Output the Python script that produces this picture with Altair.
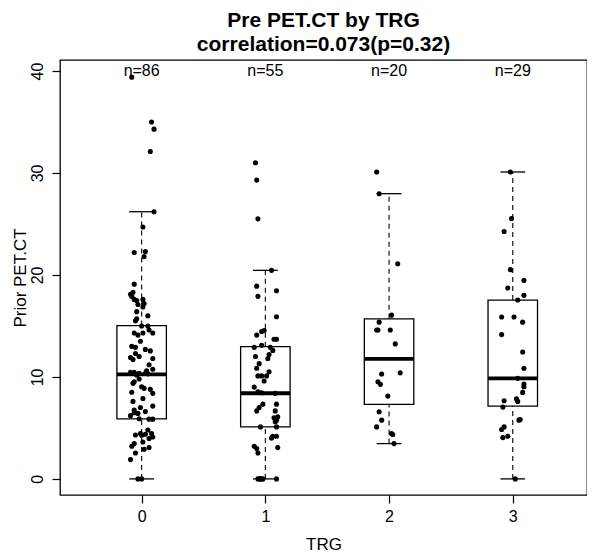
import altair as alt
import pandas as pd

FONT = "Liberation Sans"

# ---- data ----
groups = [0, 1, 2, 3]
n_labels = ["n=86", "n=55", "n=20", "n=29"]
q1 = [5.89, 5.1, 7.3, 7.14]
median = [10.25, 8.4, 11.76, 9.86]
q3 = [15.04, 12.97, 15.7, 17.54]
whisk_lo = [0.0, 0.0, 3.46, 0.0]
whisk_hi = [26.2, 20.45, 27.97, 30.1]

g0_vals = [39.4, 35.0, 34.3, 32.1, 26.2, 24.7, 22.2, 22.3, 21.8, 19.1,
           18.1, 17.9, 17.6, 17.5, 17.6, 17.2, 17.1, 16.85, 16.4, 15.7,
           15.5, 15.0, 15.0, 14.3, 14.1, 14.3, 14.3, 13.5, 12.9, 12.7,
           12.55, 11.9, 11.7, 12.0, 11.8, 10.45, 10.45, 10.35, 10.35, 10.6,
           10.75, 9.37, 9.53, 9.04, 8.88, 8.78, 8.39, 7.89, 7.0, 7.14,
           6.74, 6.48, 6.42, 5.86, 5.86, 4.45, 4.28, 4.38, 4.45, 4.11,
           3.96, 3.46, 3.2, 3.62, 3.07, 2.54, 1.89, 0.0, 0.0, 16.0,
           13.0, 11.2, 10.2, 10.3, 9.8, 8.5, 7.6, 6.6, 6.2, 5.9,
           4.8, 4.3, 2.9, 18.3, 14.6, 12.3]
g0_jit = [-0.08, 0.08, 0.10, 0.07, 0.10, 0.01, -0.06, 0.03, 0.02, -0.06,
          -0.09, -0.08, -0.06, -0.04, 0.01, 0.02, -0.03, 0.01, -0.04, -0.04,
          -0.05, 0.0, 0.05, -0.06, -0.03, 0.01, 0.09, -0.01, -0.05, 0.03,
          0.07, -0.09, -0.07, -0.02, 0.09, -0.09, -0.06, -0.02, 0.03, 0.04,
          0.09, -0.07, -0.06, 0.0, 0.02, 0.07, 0.09, 0.01, -0.01, 0.09,
          -0.06, -0.06, -0.03, 0.06, 0.09, -0.01, 0.0, 0.03, 0.08, 0.09,
          0.06, -0.06, -0.08, 0.01, 0.06, -0.05, -0.09, -0.03, 0.0, 0.05,
          -0.08, 0.06, -0.04, 0.05, -0.02, -0.08, -0.07, 0.03, -0.09, -0.02,
          0.05, -0.05, 0.02, -0.07, 0.06, -0.05]

g1_vals = [31.0, 29.3, 25.5, 20.45, 18.9, 18.45, 17.9, 15.9, 14.1, 14.45,
           14.55, 13.7, 13.7, 12.9, 13.1, 12.9, 12.6, 12.2, 11.3, 10.85,
           10.1, 10.1, 10.1, 10.5, 9.0, 8.55, 8.45, 8.4, 7.33, 7.0,
           6.67, 7.33, 6.67, 6.08, 5.76, 5.6, 5.1, 5.1, 4.18, 4.18,
           3.2, 2.97, 2.54, 3.07, 0.0, 0.0, 0.0, 0.0, 0.0, 0.0,
           11.8, 9.6, 6.0, 12.0, 4.0]
g1_jit = [-0.08, -0.07, -0.06, 0.05, -0.07, 0.09, -0.06, 0.09, -0.07, -0.03,
          -0.01, 0.07, 0.09, -0.09, -0.03, 0.04, 0.06, 0.03, -0.05, -0.07,
          -0.06, -0.03, 0.01, 0.03, -0.09, -0.06, -0.03, 0.08, -0.02, -0.05,
          -0.07, 0.09, 0.08, 0.10, 0.09, 0.08, -0.04, 0.09, 0.06, 0.09,
          -0.09, -0.07, -0.06, 0.10, -0.06, -0.03, -0.02, 0.09, -0.05, -0.04,
          0.02, -0.01, 0.07, -0.08, 0.05]

g2_vals = [30.1, 27.97, 21.1, 16.06, 15.37, 14.6, 14.6, 14.6, 13.24, 10.29,
           10.4, 9.53, 9.27, 8.12, 6.58, 5.76, 5.1, 4.45, 4.35, 3.46]
g2_jit = [-0.10, -0.08, 0.07, 0.02, -0.08, -0.10, -0.09, 0.01, 0.05, -0.06,
          0.09, -0.09, -0.07, -0.01, -0.08, -0.06, -0.10, 0.02, 0.03, 0.04]

g3_vals = [30.1, 25.54, 24.26, 20.52, 19.47, 18.72, 18.0, 17.54, 15.87, 15.87,
           15.37, 14.15, 12.45, 10.85, 9.86, 9.3, 9.04, 8.48, 7.85, 7.6,
           7.66, 7.04, 5.83, 5.76, 5.1, 4.84, 4.18, 4.05, 0.0]
g3_jit = [-0.02, -0.01, -0.07, -0.02, 0.09, -0.04, 0.09, 0.04, -0.09, 0.01,
          0.08, -0.09, 0.08, 0.09, 0.04, 0.09, 0.09, 0.08, 0.03, 0.04,
          -0.07, -0.08, 0.06, 0.05, -0.07, -0.09, -0.04, -0.08, 0.02]

# ---- tables ----
rows = []
for g, vals, jit in [(0, g0_vals, g0_jit), (1, g1_vals, g1_jit),
                     (2, g2_vals, g2_jit), (3, g3_vals, g3_jit)]:
    for v, j in zip(vals, jit):
        rows.append({"trg": g, "jit": j, "value": v})
points = pd.DataFrame(rows)

box = pd.DataFrame({"trg": groups, "label": n_labels, "q1": q1, "med": median,
                    "q3": q3, "lo": whisk_lo, "hi": whisk_hi})

xscale = alt.Scale(domain=[-0.66, 3.6], nice=False, zero=False)
yscale = alt.Scale(domain=[-1.58, 41.08], nice=False, zero=False)

xaxis = alt.Axis(values=[0, 1, 2, 3], title="TRG", format="d")
yaxis = alt.Axis(values=[0, 10, 20, 30, 40], title="Prior PET.CT", labelAngle=270)

base = alt.Chart(box).transform_calculate(
    bl="datum.trg - 0.2", br="datum.trg + 0.2",
    cl="datum.trg - 0.1", cr="datum.trg + 0.1", yl="40")

X = alt.X("trg:Q", scale=xscale, axis=xaxis)
Y = lambda f: alt.Y(f, type="quantitative", scale=yscale, axis=yaxis)

whisk_up = base.mark_rule(color="black", strokeWidth=1.1, strokeDash=[5, 4]).encode(
    x=X, y=Y("q3"), y2="hi")
whisk_dn = base.mark_rule(color="black", strokeWidth=1.1, strokeDash=[5, 4]).encode(
    x=X, y=Y("lo"), y2="q1")
cap_up = base.mark_rule(color="black", strokeWidth=1.3).encode(
    x=alt.X("cl:Q", scale=xscale, axis=xaxis), x2="cr", y=Y("hi"))
cap_dn = base.mark_rule(color="black", strokeWidth=1.3).encode(
    x=alt.X("cl:Q", scale=xscale, axis=xaxis), x2="cr", y=Y("lo"))
boxes = base.mark_rect(fillOpacity=0, stroke="black", strokeWidth=1.3).encode(
    x=alt.X("bl:Q", scale=xscale, axis=xaxis), x2="br", y=Y("q1"), y2="q3")
meds = base.mark_rule(color="black", strokeWidth=3.8).encode(
    x=alt.X("bl:Q", scale=xscale, axis=xaxis), x2="br", y=Y("med"))
ntext = base.mark_text(font=FONT, fontSize=16, color="black", baseline="middle").encode(
    x=X, y=Y("yl:Q"), text="label:N")

pts = alt.Chart(points).transform_calculate(xj="datum.trg + datum.jit").mark_circle(
    color="black", size=26, opacity=1).encode(
    x=alt.X("xj:Q", scale=xscale, axis=xaxis), y=Y("value"))

chart = alt.layer(whisk_up, whisk_dn, cap_up, cap_dn, boxes, meds, pts, ntext).properties(
    width=527, height=435,
    autosize=alt.AutoSizeParams(type="none"),
    padding={"left": 52, "top": 52, "right": 0, "bottom": 62},
    title=alt.Title(["Pre PET.CT by TRG", "correlation=0.073(p=0.32)"],
                    font=FONT, fontSize=21, fontWeight="bold", color="black",
                    anchor="middle", frame="group", lineHeight=24, offset=5),
).configure_view(stroke="black", strokeWidth=1.3).configure_axis(
    domain=False, grid=False, tickColor="black", tickSize=8, tickWidth=1.2,
    labelColor="black", labelFont=FONT, labelFontSize=16,
    titleColor="black", titleFont=FONT, titleFontSize=17, titleFontWeight="normal",
).configure_axisY(titlePadding=0, labelPadding=7).configure_axisX(titlePadding=12, labelPadding=5)

chart.save("out.html", embed_options={"renderer": "svg", "actions": False})
